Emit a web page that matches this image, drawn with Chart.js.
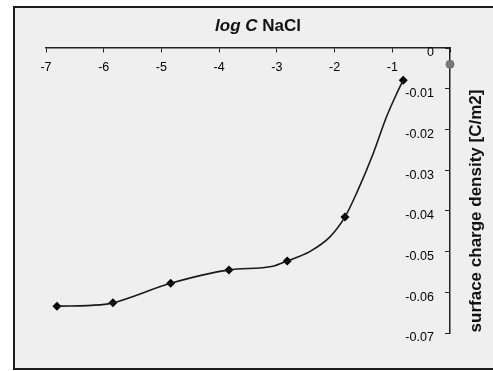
<!DOCTYPE html>
<html>
<head>
<meta charset="utf-8">
<script src="https://cdn.jsdelivr.net/npm/chart.js@4.4.1/dist/chart.umd.min.js"></script>
<style>
  html, body { margin: 0; padding: 0; background: #fff; }
  #wrap { position: relative; width: 493px; height: 371px; }
  #frame { position: absolute; left: 13px; top: 6px; width: 478px; height: 360px;
           border: 2px solid #1c1c1c; background: #efefef; }
  #grafico { position: absolute; left: 0; top: 0; }
</style>
</head>
<body>
<div id="wrap">
  <div id="frame"></div>
  <canvas id="grafico" width="493" height="371"></canvas>
</div>
<script>
// measured points (diamonds)
const logC = [-6.81, -5.84, -4.84, -3.83, -2.82, -1.82, -0.81];
const sigma = [-0.0634, -0.0626, -0.0578, -0.0545, -0.0523, -0.0415, -0.0079];

// the drawn curve
const curveX = [-6.81, -6.06, -5.84, -4.84, -3.83, -3.07, -2.82, -2.43, -2.08, -1.82, -1.62, -1.33, -1.10, -0.92, -0.81];
const curveY = [-0.0634, -0.0631, -0.0626, -0.0578, -0.0545, -0.0536, -0.0523, -0.0500, -0.0464, -0.0415, -0.0357, -0.0259, -0.0169, -0.0111, -0.0079];

// grey point sitting on the right axis
const refX = [0];
const refY = [-0.004];

const xTitleA = 'log C ';
const xTitleB = 'NaCl';
const yTitle = 'surface charge density [C/m2]';

const FONT = '"Liberation Sans", Arial, sans-serif';

const titles = {
  id: 'titles',
  afterDraw(chart) {
    const c = chart.ctx;
    c.save();
    c.fillStyle = '#111';
    c.textBaseline = 'middle';
    // top title, mixed italic/bold
    c.font = 'italic bold 17px ' + FONT;
    const wa = c.measureText(xTitleA).width;
    c.font = 'bold 17px ' + FONT;
    const wb = c.measureText(xTitleB).width;
    let x0 = 258 - (wa + wb) / 2;
    c.textAlign = 'left';
    c.font = 'italic bold 17px ' + FONT;
    c.fillText(xTitleA, x0, 26);
    c.font = 'bold 17px ' + FONT;
    c.fillText(xTitleB, x0 + wa, 26);
    // right title, reading upwards
    c.translate(476, 211);
    c.rotate(-Math.PI / 2);
    c.textAlign = 'center';
    c.fillText(yTitle, 0, 0);
    c.restore();
  }
};

const ctx = document.getElementById('grafico').getContext('2d');

new Chart(ctx, {
  type: 'scatter',
  data: {
    datasets: [
      {
        label: 'curve',
        data: curveX.map((v, i) => ({x: v, y: curveY[i]})),
        showLine: true,
        borderColor: '#1a1a1a',
        borderWidth: 1.6,
        pointRadius: 0,
        cubicInterpolationMode: 'monotone',
        clip: false
      },
      {
        label: 'sigma',
        data: logC.map((v, i) => ({x: v, y: sigma[i]})),
        showLine: false,
        pointStyle: 'rectRot',
        pointRadius: 4.5,
        backgroundColor: '#000',
        borderColor: '#000',
        borderWidth: 0,
        clip: false
      },
      {
        label: 'ref',
        data: refX.map((v, i) => ({x: v, y: refY[i]})),
        showLine: false,
        pointStyle: 'circle',
        pointRadius: 4,
        backgroundColor: '#7a7a7a',
        borderColor: '#6a6a6a',
        borderWidth: 1,
        clip: false
      }
    ]
  },
  options: {
    responsive: false,
    animation: false,
    layout: { padding: { left: 46, right: 43, top: 48, bottom: 38 } },
    plugins: {
      legend: { display: false },
      tooltip: { enabled: false }
    },
    scales: {
      x: {
        type: 'linear',
        position: { y: 0 },
        min: -7,
        max: 0,
        ticks: {
          stepSize: 1,
          padding: 8,
          color: '#000',
          font: { family: FONT, size: 12.5 },
          callback: v => (v === 0 ? '' : String(v))
        },
        grid: { display: true, drawOnChartArea: false, drawTicks: true, tickLength: 4, color: '#222' },
        border: { display: true, color: '#222', width: 1.5 }
      },
      // the visible right axis: line and tick marks
      y: {
        type: 'linear',
        position: { x: 0 },
        min: -0.07,
        max: 0,
        ticks: { stepSize: 0.01, display: false },
        grid: { display: true, drawOnChartArea: false, drawTicks: true, tickLength: 4, color: '#222' },
        border: { display: true, color: '#222', width: 1.5 }
      },
      // same range, only carries the labels just inside the axis
      yLab: {
        type: 'linear',
        axis: 'y',
        position: { x: -0.28 },
        min: -0.07,
        max: 0,
        ticks: {
          stepSize: 0.01,
          labelOffset: 5,
          color: '#000',
          font: { family: FONT, size: 12.5 },
          callback: v => (Math.abs(v) < 1e-9 ? '0' : v.toFixed(2))
        },
        grid: { display: false },
        border: { display: false }
      }
    }
  },
  plugins: [titles]
});
</script>
</body>
</html>
